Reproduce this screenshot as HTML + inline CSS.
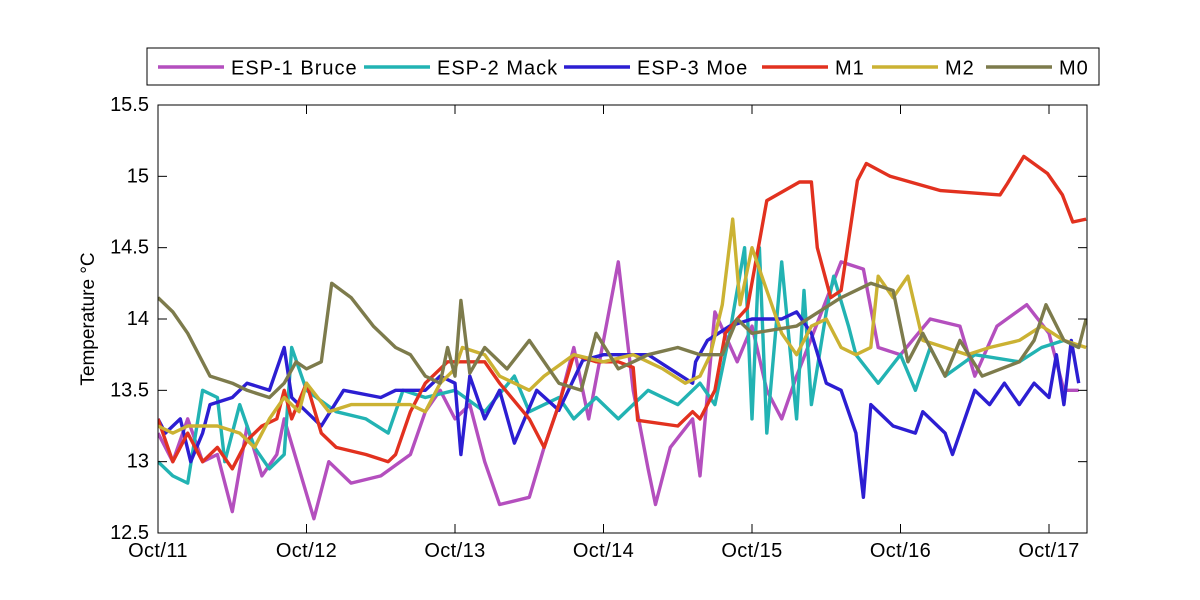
<!DOCTYPE html>
<html><head><meta charset="utf-8"><style>
body{margin:0;background:#fff;}
svg{display:block;font-family:"Liberation Sans",sans-serif;}
</style></head><body>
<svg id="chart" width="1200" height="600" viewBox="0 0 1200 600">
<rect x="0" y="0" width="1200" height="600" fill="#fff"/>
<g id="series"></g>
<g id="axes"></g>
<g id="legend"></g>
</svg>
<script>
const xTickDays=[11,12,13,14,15,16,17];
const xTickLabels=["Oct/11","Oct/12","Oct/13","Oct/14","Oct/15","Oct/16","Oct/17"];
const yTicks=[12.5,13,13.5,14,14.5,15,15.5];
const yTickLabels=["12.5","13","13.5","14","14.5","15","15.5"];
const seriesNames=["ESP-1 Bruce","ESP-2 Mack","ESP-3 Moe","M1","M2","M0"];
const esp1T=[11.0,11.1,11.2,11.3,11.4,11.5,11.6,11.7,11.8,11.85,12.05,12.15,12.3,12.5,12.7,12.8,12.9,13.0,13.1,13.2,13.3,13.5,13.6,13.7,13.8,13.9,14.1,14.2,14.3,14.35,14.45,14.6,14.65,14.75,14.9,15.0,15.1,15.2,15.3,15.6,15.75,15.85,16.0,16.2,16.4,16.5,16.65,16.85,17.0,17.1,17.2];
const esp1V=[13.2,13.0,13.3,13.0,13.05,12.65,13.25,12.9,13.05,13.3,12.6,13.0,12.85,12.9,13.05,13.35,13.5,13.3,13.4,13.0,12.7,12.75,13.1,13.4,13.8,13.3,14.4,13.5,12.95,12.7,13.1,13.3,12.9,14.05,13.7,13.95,13.5,13.3,13.6,14.4,14.35,13.8,13.75,14.0,13.95,13.6,13.95,14.1,13.9,13.5,13.5];
const esp2T=[11.0,11.1,11.2,11.3,11.4,11.45,11.55,11.65,11.75,11.85,11.9,12.0,12.2,12.4,12.55,12.65,12.8,13.0,13.2,13.4,13.5,13.7,13.8,13.95,14.1,14.3,14.5,14.65,14.75,14.85,14.95,15.0,15.05,15.1,15.2,15.3,15.35,15.4,15.5,15.55,15.65,15.7,15.85,16.0,16.1,16.2,16.3,16.5,16.8,16.95,17.1,17.2];
const esp2V=[13.0,12.9,12.85,13.5,13.45,13.0,13.4,13.1,12.95,13.05,13.8,13.5,13.35,13.3,13.2,13.5,13.45,13.5,13.35,13.6,13.35,13.45,13.3,13.45,13.3,13.5,13.4,13.55,13.4,13.9,14.5,13.3,14.5,13.2,14.4,13.3,14.2,13.4,14.05,14.3,13.95,13.75,13.55,13.75,13.5,13.8,13.6,13.75,13.7,13.8,13.85,13.8];
const esp3T=[11.0,11.05,11.15,11.22,11.3,11.35,11.5,11.6,11.75,11.85,11.9,12.0,12.1,12.25,12.5,12.6,12.8,12.9,13.0,13.04,13.1,13.2,13.3,13.4,13.55,13.7,13.86,14.0,14.3,14.45,14.6,14.62,14.7,14.85,15.0,15.2,15.3,15.4,15.5,15.6,15.7,15.75,15.8,15.95,16.1,16.15,16.3,16.35,16.45,16.5,16.6,16.7,16.8,16.9,17.0,17.05,17.1,17.15,17.2];
const esp3V=[13.3,13.2,13.3,13.0,13.2,13.4,13.45,13.55,13.5,13.8,13.45,13.35,13.25,13.5,13.45,13.5,13.5,13.6,13.55,13.05,13.6,13.3,13.5,13.13,13.5,13.36,13.71,13.75,13.75,13.65,13.55,13.7,13.85,13.95,14.0,14.0,14.05,13.9,13.55,13.5,13.2,12.75,13.4,13.25,13.2,13.35,13.2,13.05,13.35,13.5,13.4,13.55,13.4,13.55,13.45,13.75,13.4,13.85,13.55];
const m1T=[11.0,11.1,11.2,11.3,11.4,11.5,11.6,11.7,11.8,11.85,11.9,12.0,12.1,12.2,12.4,12.55,12.6,12.7,12.8,12.95,13.2,13.3,13.5,13.6,13.7,13.8,13.95,14.1,14.2,14.23,14.5,14.6,14.65,14.75,14.82,14.9,14.97,15.1,15.32,15.4,15.44,15.53,15.6,15.71,15.77,15.93,16.27,16.67,16.72,16.83,16.99,17.09,17.16,17.25];
const m1V=[13.3,13.0,13.2,13.0,13.1,12.95,13.15,13.25,13.3,13.5,13.3,13.55,13.2,13.1,13.05,13.0,13.05,13.35,13.55,13.7,13.7,13.55,13.3,13.1,13.4,13.75,13.7,13.7,13.66,13.29,13.25,13.35,13.3,13.5,13.9,14.0,14.08,14.83,14.96,14.96,14.5,14.15,14.2,14.97,15.09,15.0,14.9,14.87,14.95,15.14,15.02,14.87,14.68,14.7];
const m2T=[11.0,11.1,11.2,11.4,11.55,11.65,11.75,11.85,11.95,12.0,12.15,12.3,12.55,12.7,12.8,12.9,13.0,13.05,13.2,13.3,13.5,13.6,13.8,14.0,14.2,14.4,14.55,14.65,14.72,14.8,14.87,14.92,15.0,15.1,15.2,15.3,15.4,15.5,15.6,15.7,15.8,15.85,15.95,16.05,16.15,16.3,16.45,16.6,16.8,16.95,17.1,17.25];
const m2V=[13.25,13.2,13.25,13.25,13.2,13.1,13.3,13.45,13.35,13.55,13.35,13.4,13.4,13.4,13.35,13.55,13.65,13.8,13.75,13.6,13.5,13.6,13.75,13.7,13.75,13.65,13.55,13.6,13.75,14.1,14.7,14.1,14.5,14.2,13.9,13.75,13.95,14.0,13.8,13.75,13.8,14.3,14.15,14.3,13.85,13.8,13.75,13.8,13.85,13.95,13.85,13.8];
const m0T=[11.0,11.1,11.2,11.35,11.5,11.6,11.75,11.85,11.93,12.0,12.1,12.17,12.3,12.45,12.6,12.7,12.8,12.9,12.95,13.0,13.04,13.1,13.2,13.35,13.5,13.7,13.85,13.95,14.1,14.3,14.5,14.65,14.8,14.9,15.0,15.3,15.6,15.8,15.95,16.05,16.15,16.3,16.4,16.55,16.8,16.9,16.98,17.1,17.2,17.25];
const m0V=[14.15,14.05,13.9,13.6,13.55,13.5,13.45,13.55,13.7,13.65,13.7,14.25,14.15,13.95,13.8,13.75,13.6,13.55,13.8,13.6,14.13,13.62,13.8,13.65,13.85,13.55,13.5,13.9,13.65,13.75,13.8,13.75,13.75,14.0,13.9,13.95,14.15,14.25,14.2,13.7,13.9,13.6,13.85,13.6,13.7,13.85,14.1,13.85,13.8,14.0];

const NS="http://www.w3.org/2000/svg";
const X0=158,X1=1087,Y0=533,Y1=105;
const tMin=11,tMax=11+(X1-X0)/148.5;
function xs(t){return X0+(t-tMin)/(tMax-tMin)*(X1-X0);}
function ys(v){return Y0-(v-12.5)/(15.5-12.5)*(Y0-Y1);}
function mk(tag,attrs,parent){const e=document.createElementNS(NS,tag);for(const k in attrs)e.setAttribute(k,attrs[k]);parent.appendChild(e);return e;}
const colors=["#b44fbe","#22b3b3","#2c1ed2","#e2311f","#cbb233","#7d7b4c"];
const allT=[esp1T,esp2T,esp3T,m1T,m2T,m0T];
const allV=[esp1V,esp2V,esp3V,m1V,m2V,m0V];
const sg=document.getElementById('series');
const clip=mk('clipPath',{id:'pc'},sg);
mk('rect',{x:X0,y:Y1,width:X1-X0,height:Y0-Y1},clip);
for(let s=0;s<6;s++){
  const d=allT[s].map((t,i)=>(i?'L':'M')+xs(t).toFixed(1)+' '+ys(allV[s][i]).toFixed(1)).join(' ');
  const p=mk('path',{d:d,fill:'none',stroke:colors[s],'stroke-width':3.4,'stroke-linejoin':'round','clip-path':'url(#pc)'},sg);
  
  
}
const ax=document.getElementById('axes');
const frame=mk('rect',{x:X0,y:Y1,width:X1-X0,height:Y0-Y1,fill:'none',stroke:'#000','stroke-width':1},ax);


xTickDays.forEach((d,i)=>{
  const x=xs(d);
  mk('line',{x1:x,y1:Y0,x2:x,y2:Y0-9,stroke:'#000'},ax);
  mk('line',{x1:x,y1:Y1,x2:x,y2:Y1+9,stroke:'#000'},ax);
  const t=mk('text',{x:x,y:Y0+24,'font-size':20,'letter-spacing':0.4,'text-anchor':'middle'},ax);
  t.textContent=xTickLabels[i];
  
  
});
yTicks.forEach((v,i)=>{
  const y=ys(v);
  mk('line',{x1:X0,y1:y,x2:X0+9,y2:y,stroke:'#000'},ax);
  mk('line',{x1:X1,y1:y,x2:X1-9,y2:y,stroke:'#000'},ax);
  const t=mk('text',{x:X0-9,y:y+6,'font-size':20,'text-anchor':'end'},ax);
  t.textContent=yTickLabels[i];
  
  
});
const yl=mk('text',{x:0,y:0,'font-size':19,'text-anchor':'middle',transform:'translate(94,319) rotate(-90)'},ax);
yl.textContent='Temperature °C';


const lg=document.getElementById('legend');
const lb=mk('rect',{x:147,y:48,width:952,height:37,fill:'#fff',stroke:'#000','stroke-width':1},lg);


const lx=[158,364,564,762,872,986];
for(let s=0;s<6;s++){
  const g=mk('g',{},lg);
  
  
  mk('line',{x1:lx[s],y1:67,x2:lx[s]+66,y2:67,stroke:colors[s],'stroke-width':3.4},g);
  const t=mk('text',{x:lx[s]+73,y:74.5,'font-size':20,'letter-spacing':1},g);
  t.textContent=seriesNames[s];
}
</script>
</body></html>
